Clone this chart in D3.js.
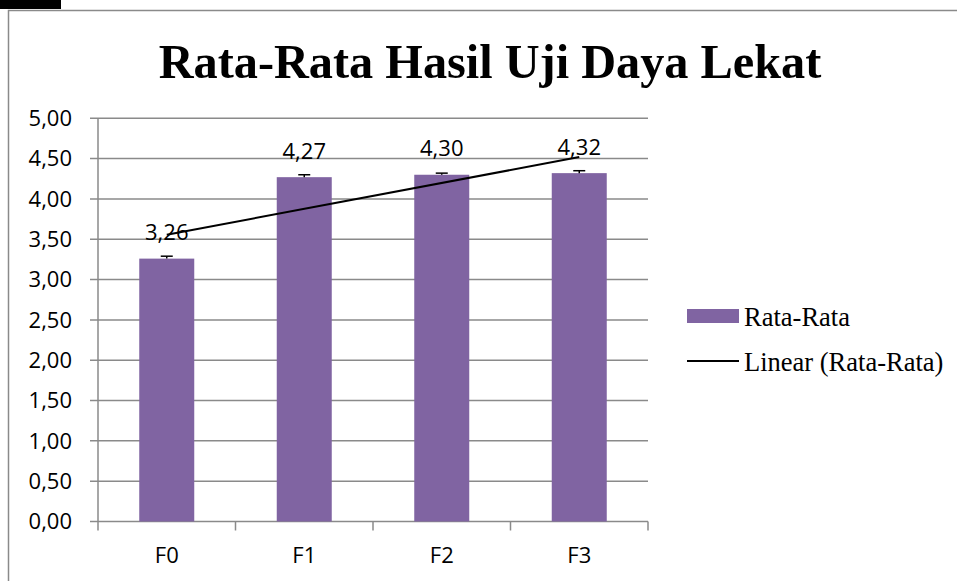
<!DOCTYPE html>
<html>
<head>
<meta charset="utf-8">
<script src="https://cdn.jsdelivr.net/npm/d3@7"></script>
<style>
  html, body { margin: 0; padding: 0; background: #fff; }
  svg { display: block; }
</style>
</head>
<body>
<div id="chart"></div>
<script>
// Bar chart of mean adhesion test results, with error bars and a linear trendline.
const categories = ["F0", "F1", "F2", "F3"];
const means = [3.26, 4.27, 4.30, 4.32];
const errors = [0.03, 0.03, 0.02, 0.03];
const y_ticks = [0, 0.5, 1, 1.5, 2, 2.5, 3, 3.5, 4, 4.5, 5];
const title_text = "Rata-Rata Hasil Uji Daya Lekat";
const legend_labels = ["Rata-Rata", "Linear (Rata-Rata)"];

const width = 957;
const height = 581;
const plot = { left: 98, right: 648, top: 118.3, bottom: 521.5 };
const bar_color = "#8064a2";
const grid_color = "#8a8a8a";
const sans = "'Open Sans', 'Noto Sans', sans-serif";
const serif = "'Liberation Serif', 'DejaVu Serif', serif";
const comma = (value) => d3.format(".2f")(value).replace(".", ",");

const svg = d3.select("#chart").append("svg")
  .attr("width", width)
  .attr("height", height);

// chart frame and the dark tab in the corner
svg.append("rect")
  .attr("x", 0).attr("y", 0).attr("width", 61).attr("height", 9)
  .attr("fill", "#000");
svg.append("path")
  .attr("d", `M8.5,${height} V10.5 H${width}`)
  .attr("fill", "none")
  .attr("stroke", grid_color)
  .attr("stroke-width", 1.5);

svg.append("text")
  .attr("x", 490)
  .attr("y", 78)
  .attr("text-anchor", "middle")
  .attr("font-family", serif)
  .attr("font-weight", "bold")
  .attr("font-size", 48.3)
  .text(title_text);

const x = d3.scaleBand()
  .domain(categories)
  .range([plot.left, plot.right])
  .paddingInner(0.6)
  .paddingOuter(0.3);
const y = d3.scaleLinear()
  .domain([0, 5])
  .range([plot.bottom, plot.top]);

// horizontal gridlines with their left tick stubs
svg.append("g")
  .selectAll("line")
  .data(y_ticks)
  .join("line")
  .attr("x1", plot.left - 8)
  .attr("x2", plot.right)
  .attr("y1", (d) => y(d))
  .attr("y2", (d) => y(d))
  .attr("stroke", grid_color)
  .attr("stroke-width", 1.5);

svg.append("g")
  .selectAll("text")
  .data(y_ticks)
  .join("text")
  .attr("x", 72)
  .attr("y", (d) => y(d))
  .attr("dy", "0.35em")
  .attr("text-anchor", "end")
  .attr("font-family", sans)
  .attr("font-size", 22)
  .text(comma);

// axes
svg.append("line")
  .attr("x1", plot.left).attr("x2", plot.left)
  .attr("y1", plot.top).attr("y2", plot.bottom)
  .attr("stroke", grid_color)
  .attr("stroke-width", 1.5);

const step = x.step();
const boundaries = d3.range(categories.length + 1).map((i) => plot.left + i * step);
svg.append("g")
  .selectAll("line")
  .data(boundaries)
  .join("line")
  .attr("x1", (d) => d).attr("x2", (d) => d)
  .attr("y1", plot.bottom).attr("y2", plot.bottom + 9)
  .attr("stroke", grid_color)
  .attr("stroke-width", 1.5);

svg.append("g")
  .selectAll("text")
  .data(categories)
  .join("text")
  .attr("x", (d) => x(d) + x.bandwidth() / 2)
  .attr("y", 555)
  .attr("dy", "0.35em")
  .attr("text-anchor", "middle")
  .attr("font-family", sans)
  .attr("font-size", 22)
  .text((d) => d);

// bars
const rows = categories.map((name, i) => ({ name, mean: means[i], error: errors[i] }));
svg.append("g")
  .selectAll("rect")
  .data(rows)
  .join("rect")
  .attr("x", (d) => x(d.name))
  .attr("y", (d) => y(d.mean))
  .attr("width", x.bandwidth())
  .attr("height", (d) => y(0) - y(d.mean))
  .attr("fill", bar_color);

// error bars (plus side only)
const errs = svg.append("g").attr("stroke", "#000").attr("stroke-width", 1.5);
rows.forEach((d) => {
  const cx = x(d.name) + x.bandwidth() / 2;
  errs.append("line")
    .attr("x1", cx).attr("x2", cx)
    .attr("y1", y(d.mean)).attr("y2", y(d.mean + d.error));
  errs.append("line")
    .attr("x1", cx - 6).attr("x2", cx + 6)
    .attr("y1", y(d.mean + d.error)).attr("y2", y(d.mean + d.error));
});

// least squares trendline over category index 1..n
const xs = means.map((_, i) => i + 1);
const x_mean = d3.mean(xs);
const y_mean = d3.mean(means);
const slope = d3.sum(xs, (xi, i) => (xi - x_mean) * (means[i] - y_mean))
  / d3.sum(xs, (xi) => (xi - x_mean) ** 2);
const intercept = y_mean - slope * x_mean;
const trend = xs.map((xi, i) => [x(categories[i]) + x.bandwidth() / 2, y(intercept + slope * xi)]);
svg.append("path")
  .attr("d", d3.line()([trend[0], trend[trend.length - 1]]))
  .attr("fill", "none")
  .attr("stroke", "#000")
  .attr("stroke-width", 2);

// value labels
svg.append("g")
  .selectAll("text")
  .data(rows)
  .join("text")
  .attr("x", (d) => x(d.name) + x.bandwidth() / 2)
  .attr("y", (d) => y(d.mean) - 26)
  .attr("dy", "0.35em")
  .attr("text-anchor", "middle")
  .attr("font-family", sans)
  .attr("font-size", 22)
  .text((d) => comma(d.mean));

// legend
const legend = svg.append("g").attr("font-family", serif).attr("font-size", 26.5);
legend.append("rect")
  .attr("x", 687).attr("y", 309).attr("width", 52).attr("height", 14)
  .attr("fill", bar_color);
legend.append("text")
  .attr("x", 744).attr("y", 317).attr("dy", "0.35em")
  .text(legend_labels[0]);
legend.append("line")
  .attr("x1", 687).attr("x2", 739).attr("y1", 361).attr("y2", 361)
  .attr("stroke", "#000").attr("stroke-width", 2);
legend.append("text")
  .attr("x", 744).attr("y", 362).attr("dy", "0.35em")
  .text(legend_labels[1]);
</script>
</body>
</html>
